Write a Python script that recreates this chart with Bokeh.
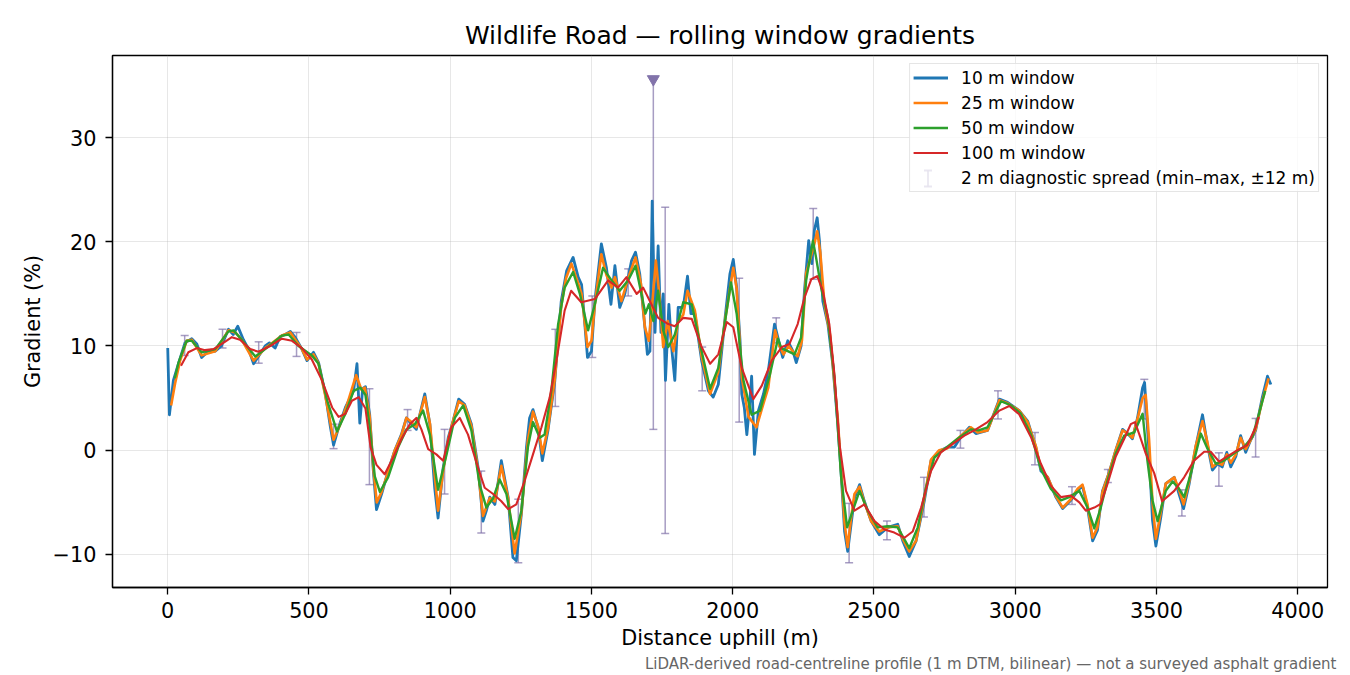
from bokeh.plotting import figure
from bokeh.models import (ColumnDataSource, Range1d, FixedTicker, Legend, LegendItem,
                          Whisker, TeeHead, Arrow, Title)
from bokeh.embed import file_html
from bokeh.resources import INLINE

FONT = "DejaVu Sans"

# (distance uphill in m, gradient in %), per window
w10 = [(0, 9.8), (6, 3.4), (20, 6.7), (38, 8.3), (61, 10.3), (85, 10.7), (103, 10.2), (120, 8.9),
       (140, 9.4), (168, 9.5), (190, 10.0), (215, 11.6), (232, 11.1), (248, 11.9), (268, 10.6),
       (286, 9.7), (304, 8.3), (321, 9.0), (345, 10.0), (360, 10.3), (380, 9.8), (398, 10.9),
       (416, 11.1), (434, 11.4), (452, 10.8), (475, 9.7), (493, 8.6), (516, 9.4), (534, 8.4),
       (558, 5.4), (576, 2.2), (587, 0.5), (605, 2.2), (629, 4.1), (658, 5.7), (670, 8.3),
       (680, 2.6), (690, 5.9), (700, 6.1), (715, 3.4), (727, -1.7), (739, -5.7), (757, -4.2),
       (780, -2.0), (804, 0.0), (827, 1.5), (845, 3.1), (863, 2.5), (880, 2.0), (910, 5.4),
       (928, 2.5), (945, -3.6), (957, -6.5), (975, -1.7), (993, 1.2), (1010, 2.8), (1030, 4.9),
       (1051, 4.4), (1075, 2.5), (1099, -1.7), (1116, -6.8), (1128, -5.8), (1140, -4.5),
       (1158, -5.2), (1181, -1.0), (1205, -4.5), (1222, -10.3), (1234, -10.6), (1252, -6.1),
       (1270, 0.3), (1281, 3.1), (1293, 3.9), (1311, 2.2), (1326, -1.0), (1346, 1.9), (1370, 6.6),
       (1393, 14.3), (1412, 17.2), (1435, 18.5), (1453, 16.6), (1465, 15.9), (1486, 8.9),
       (1500, 9.5), (1512, 14.3), (1535, 19.8), (1553, 17.5), (1569, 14.0), (1583, 17.7),
       (1600, 13.7), (1618, 15.0), (1642, 18.2), (1656, 19.0), (1671, 16.9), (1689, 11.8),
       (1698, 9.2), (1707, 9.5), (1715, 23.9), (1725, 11.3), (1736, 19.6), (1746, 11.3),
       (1754, 15.0), (1762, 6.7), (1774, 14.0), (1784, 9.8), (1795, 6.7), (1807, 13.7),
       (1825, 13.7), (1840, 16.7), (1852, 13.1), (1866, 13.1), (1890, 8.6), (1914, 5.7),
       (1931, 5.1), (1949, 6.3), (1973, 12.7), (1990, 16.9), (2002, 18.3), (2014, 15.6),
       (2026, 10.5), (2032, 5.4), (2041, 4.1), (2050, 1.5), (2058, 3.8), (2067, 7.1),
       (2077, -0.4), (2091, 3.8), (2109, 5.4), (2126, 7.6), (2148, 12.1), (2160, 10.8),
       (2177, 8.9), (2195, 10.5), (2213, 9.5), (2225, 8.4), (2242, 10.0), (2254, 15.3),
       (2269, 20.1), (2280, 17.9), (2289, 21.1), (2299, 22.3), (2307, 20.1), (2319, 14.3),
       (2337, 12.1), (2354, 8.3), (2372, 2.5), (2384, -2.3), (2396, -7.8), (2407, -9.7),
       (2419, -7.1), (2431, -4.6), (2449, -3.3), (2466, -4.9), (2490, -6.8), (2519, -8.1),
       (2549, -7.4), (2584, -7.1), (2602, -8.7), (2625, -10.2), (2649, -8.7), (2678, -4.9),
       (2702, -1.0), (2731, -0.1), (2761, 0.3), (2785, 0.3), (2808, 1.3), (2838, 2.2),
       (2861, 1.6), (2902, 1.9), (2944, 4.9), (2973, 4.6), (3014, 3.8), (3044, 2.8), (3073, 0.3),
       (3091, -2.0), (3115, -2.6), (3144, -4.5), (3168, -5.6), (3197, -4.8), (3221, -3.9),
       (3238, -3.4), (3256, -5.5), (3274, -8.7), (3291, -7.7), (3309, -3.9), (3333, -2.1),
       (3356, 0.0), (3380, 2.0), (3398, 1.6), (3415, 1.1), (3433, 3.1), (3451, 6.0), (3458, 6.5),
       (3474, -0.3), (3486, -6.7), (3498, -9.2), (3515, -6.5), (3533, -3.2), (3563, -2.6),
       (3580, -4.2), (3596, -5.6), (3616, -3.2), (3639, 0.3), (3663, 3.4), (3680, 0.6),
       (3698, -1.9), (3716, -1.3), (3733, -1.6), (3749, -0.2), (3763, -1.6), (3781, -0.6),
       (3798, 1.4), (3816, -0.2), (3834, 1.0), (3851, 1.9), (3875, 5.1), (3893, 7.1), (3905, 6.3)]

w25 = [(12, 4.3), (26, 6.4), (44, 8.6), (67, 10.5), (85, 10.6), (120, 9.1), (168, 9.5), (215, 11.5),
       (239, 11.3), (262, 10.6), (304, 8.6), (345, 9.8), (360, 10.1), (404, 11.0), (434, 11.3),
       (475, 9.7), (493, 8.7), (516, 9.2), (534, 8.3), (558, 5.2), (587, 1.0), (611, 2.5),
       (635, 4.4), (667, 7.2), (686, 5.8), (698, 6.0), (715, 3.2), (728, -1.8), (740, -5.0),
       (757, -4.0), (780, -2.1), (804, 0.0), (827, 1.4), (845, 3.1), (863, 2.7), (880, 2.2),
       (910, 5.1), (928, 2.6), (957, -5.8), (975, -2.0), (993, 1.0), (1010, 2.8), (1030, 4.7),
       (1051, 4.3), (1075, 2.3), (1099, -2.0), (1116, -6.3), (1140, -4.6), (1158, -4.9),
       (1181, -1.5), (1205, -4.6), (1228, -9.9), (1252, -6.0), (1275, 1.0), (1293, 3.7),
       (1311, 2.3), (1326, -0.3), (1346, 2.1), (1370, 6.8), (1393, 13.8), (1410, 16.5),
       (1429, 17.9), (1453, 16.0), (1465, 15.0), (1486, 9.9), (1500, 10.5), (1512, 14.0),
       (1535, 18.8), (1553, 16.8), (1571, 15.6), (1583, 16.6), (1606, 14.3), (1630, 16.5),
       (1656, 18.5), (1675, 16.0), (1689, 11.8), (1703, 10.5), (1715, 14.0), (1728, 18.2),
       (1740, 15.0), (1754, 9.9), (1770, 12.4), (1790, 9.5), (1807, 12.4), (1825, 13.0),
       (1840, 15.3), (1866, 13.4), (1890, 9.0), (1920, 5.4), (1949, 7.5), (1973, 12.5),
       (2002, 17.5), (2014, 15.5), (2032, 7.0), (2056, 3.2), (2084, 2.2), (2109, 4.5),
       (2126, 6.0), (2150, 11.5), (2165, 10.0), (2180, 9.2), (2198, 10.0), (2215, 9.4),
       (2230, 9.0), (2245, 10.5), (2260, 17.0), (2275, 18.4), (2289, 19.8), (2299, 21.0),
       (2310, 19.0), (2325, 14.0), (2345, 11.0), (2372, 3.0), (2396, -7.0), (2407, -9.3),
       (2419, -6.5), (2431, -4.2), (2449, -3.5), (2466, -5.0), (2490, -6.8), (2519, -7.8),
       (2549, -7.4), (2584, -7.3), (2602, -8.5), (2625, -9.7), (2649, -8.7), (2678, -4.6),
       (2702, -0.9), (2731, 0.0), (2761, 0.2), (2808, 1.4), (2843, 2.2), (2867, 1.7),
       (2902, 1.9), (2944, 4.8), (2973, 4.5), (3014, 3.8), (3044, 2.7), (3073, 0.4),
       (3091, -1.8), (3115, -2.6), (3144, -4.4), (3168, -5.5), (3197, -4.7), (3221, -3.7),
       (3238, -3.3), (3256, -5.2), (3274, -8.4), (3291, -7.4), (3309, -4.0), (3333, -2.1),
       (3356, 0.0), (3380, 1.9), (3398, 1.6), (3415, 1.2), (3433, 3.0), (3451, 5.0), (3462, 5.3),
       (3474, 1.0), (3486, -5.0), (3498, -8.5), (3515, -6.0), (3533, -3.2), (3563, -2.6),
       (3580, -3.8), (3596, -5.2), (3616, -3.0), (3639, 0.4), (3663, 2.8), (3680, 0.8),
       (3698, -1.6), (3716, -1.2), (3733, -1.4), (3749, -0.4), (3763, -1.2), (3781, -0.4),
       (3798, 1.2), (3816, 0.1), (3834, 1.0), (3851, 2.0), (3875, 4.8), (3897, 6.9)]

w50 = [(25, 6.9), (38, 8.4), (67, 10.5), (85, 10.5), (120, 9.4), (168, 9.7), (215, 11.4),
       (233, 11.5), (262, 10.6), (310, 9.0), (345, 9.7), (404, 11.0), (428, 11.1), (463, 10.0),
       (510, 9.1), (534, 8.3), (564, 4.8), (599, 1.8), (629, 3.5), (658, 5.7), (682, 6.0),
       (700, 5.3), (715, 2.2), (733, -2.5), (751, -4.0), (780, -2.6), (816, 0.3), (845, 2.0),
       (875, 2.5), (904, 3.8), (928, 1.5), (957, -3.8), (987, -0.4), (1016, 3.1), (1046, 4.3),
       (1075, 1.9), (1104, -3.3), (1128, -5.5), (1152, -4.6), (1175, -2.8), (1199, -4.2),
       (1228, -8.5), (1252, -5.8), (1275, 0.3), (1293, 2.7), (1317, 1.2), (1334, 1.5),
       (1358, 5.7), (1382, 12.1), (1405, 15.6), (1435, 17.1), (1459, 15.0), (1488, 11.5),
       (1512, 14.0), (1541, 17.5), (1571, 16.3), (1600, 15.3), (1630, 16.3), (1656, 17.7),
       (1677, 15.0), (1691, 13.1), (1703, 14.0), (1719, 12.4), (1736, 15.3), (1754, 11.5),
       (1772, 9.9), (1795, 11.1), (1825, 14.2), (1855, 14.0), (1890, 9.5), (1920, 5.9),
       (1949, 7.9), (1973, 12.4), (1994, 16.1), (2014, 13.1), (2038, 6.7), (2067, 3.4),
       (2097, 3.8), (2132, 7.3), (2160, 10.7), (2172, 9.8), (2195, 9.5), (2219, 9.2),
       (2242, 10.8), (2260, 16.3), (2284, 20.1), (2295, 18.5), (2313, 15.6), (2337, 12.7),
       (2360, 7.0), (2384, -2.6), (2405, -7.4), (2425, -5.8), (2449, -3.9), (2478, -5.8),
       (2513, -7.4), (2549, -7.3), (2584, -7.4), (2625, -9.4), (2655, -7.4), (2684, -3.6),
       (2714, -0.7), (2749, 0.1), (2796, 1.1), (2843, 2.0), (2870, 1.9), (2902, 2.2),
       (2950, 4.7), (2985, 4.3), (3020, 3.5), (3056, 1.5), (3091, -1.8), (3126, -3.7),
       (3162, -4.8), (3191, -4.5), (3227, -3.9), (3256, -5.5), (3280, -7.5), (3303, -5.5),
       (3327, -2.9), (3356, -0.3), (3386, 1.4), (3421, 1.7), (3451, 3.5), (3468, -1.0),
       (3486, -4.8), (3504, -6.8), (3520, -5.2), (3533, -3.9), (3557, -3.0), (3580, -3.7),
       (3598, -4.5), (3622, -2.2), (3657, 1.6), (3680, 0.2), (3710, -1.3), (3739, -1.0),
       (3775, -0.3), (3810, 0.3), (3840, 1.3), (3863, 3.5), (3885, 5.7)]

w100 = [(47, 8.1), (73, 9.4), (103, 9.8), (132, 9.6), (162, 9.7), (197, 10.3), (227, 10.85),
        (256, 10.6), (292, 9.7), (321, 9.45), (363, 10.0), (404, 10.7), (440, 10.5), (475, 9.8),
        (510, 8.7), (546, 6.7), (582, 4.1), (605, 3.2), (629, 3.5), (652, 4.75), (676, 5.1),
        (700, 4.0), (718, 0.3), (739, -1.4), (768, -2.3), (798, -0.7), (827, 1.05), (857, 2.5),
        (880, 3.1), (898, 2.0), (922, 0.1), (951, -0.4), (975, -1.0), (1004, 2.2), (1034, 3.1),
        (1063, 1.5), (1093, -1.2), (1122, -3.6), (1152, -4.2), (1181, -4.9), (1205, -5.65),
        (1234, -5.2), (1264, -2.9), (1293, -0.4), (1323, 2.2), (1352, 5.05), (1376, 8.6),
        (1405, 13.4), (1428, 15.3), (1464, 14.2), (1512, 14.5), (1559, 16.3), (1594, 15.6),
        (1624, 16.6), (1660, 15.0), (1683, 15.6), (1707, 14.3), (1736, 12.7), (1772, 12.1),
        (1795, 11.9), (1825, 12.7), (1855, 12.6), (1890, 9.9), (1920, 8.3), (1949, 9.2),
        (1979, 12.3), (2002, 11.8), (2032, 7.9), (2073, 4.9), (2103, 6.2), (2138, 8.6),
        (2174, 9.9), (2201, 10.2), (2230, 12.1), (2254, 14.65), (2278, 16.4), (2299, 16.7),
        (2319, 15.3), (2342, 12.1), (2360, 7.3), (2378, 0.6), (2401, -3.9), (2431, -5.8),
        (2466, -5.2), (2502, -6.8), (2537, -7.6), (2572, -7.9), (2608, -8.4), (2637, -7.8),
        (2667, -5.5), (2702, -2.0), (2737, -0.2), (2779, 0.6), (2820, 1.4), (2855, 1.9),
        (2902, 2.7), (2944, 3.8), (2979, 4.25), (3014, 3.45), (3056, 1.25), (3091, -1.3),
        (3126, -3.4), (3162, -4.5), (3197, -4.35), (3227, -5.0), (3250, -5.8), (3280, -5.5),
        (3303, -5.15), (3327, -3.2), (3356, -0.6), (3386, 1.1), (3409, 2.5), (3424, 2.7),
        (3439, 1.55), (3462, -0.3), (3492, -2.2), (3520, -4.9), (3563, -3.9), (3598, -2.6),
        (3633, -1.0), (3669, -0.15), (3692, -0.15), (3722, -1.1), (3751, -0.6), (3787, 0.0),
        (3822, 0.5), (3851, 2.2), (3862, 3.2)]

# 2 m diagnostic spread: min-max within +-12 m at each check point
spread_d = [60, 194, 322, 456, 587, 714, 849, 980, 1110, 1241, 1372, 1503, 1630, 1719, 1761,
            1892, 2023, 2154, 2285, 2412, 2546, 2677, 2806, 2939, 3070, 3201, 3328, 3457, 3590,
            3721, 3851]
spread_lo = [9.1, 9.8, 8.35, 9.0, 0.15, -3.3, 1.9, -4.2, -7.95, -10.8, 4.2, 8.9, 14.8, 2.0, -8.0,
             5.7, 2.7, 10.3, 16.4, -10.8, -8.6, -6.4, 0.2, 3.0, -1.4, -5.2, -3.1, 3.0, -6.3,
             -3.45, -0.65]
spread_hi = [11.0, 11.6, 10.4, 11.3, 2.5, 5.9, 3.9, 2.0, -2.0, -4.7, 11.6, 14.8, 17.4, 35.6, 23.3,
             9.9, 16.5, 12.7, 23.2, -5.1, -6.8, -2.6, 1.9, 5.7, 1.7, -3.5, -1.85, 6.8, -3.8,
             -0.25, 3.05]
# spread maxima that run off the top of the axes
clip_d = [1719]
clip_y = [35.6]

x_ticks = [0, 500, 1000, 1500, 2000, 2500, 3000, 3500, 4000]
y_ticks = [-10, 0, 10, 20, 30]

series = [("10 m window", w10, "#1f77b4", 2.8),
          ("25 m window", w25, "#ff7f0e", 2.6),
          ("50 m window", w50, "#2ca02c", 2.4),
          ("100 m window", w100, "#d62728", 2.1)]
ERR = "#8273aa"
ERR_ALPHA = 0.7

p = figure(frame_width=1215, frame_height=532,
           x_range=Range1d(-195.5, 4105.5), y_range=Range1d(-13.17, 37.87),
           output_backend="svg", toolbar_location=None,
           min_border_left=112, min_border_right=15, min_border_top=55, min_border_bottom=80,
           x_axis_label="Distance uphill (m)", y_axis_label="Gradient (%)")

p.title.text = "Wildlife Road \u2014 rolling window gradients"
p.title.align = "center"
p.title.text_font = FONT
p.title.text_font_size = "25px"
p.title.text_font_style = "normal"
p.title.text_color = "black"
p.title.standoff = 11

p.outline_line_color = "black"
p.outline_line_width = 1.3
p.outline_line_alpha = 1.0
p.background_fill_color = "white"
p.border_fill_color = "white"

p.xaxis.ticker = FixedTicker(ticks=x_ticks)
p.yaxis.ticker = FixedTicker(ticks=y_ticks)
p.yaxis.major_label_overrides = {-10: "\u221210"}
for ax in p.axis:
    ax.axis_line_width = 1.3
    ax.major_tick_line_width = 1.3
    ax.major_tick_out = 7
    ax.major_tick_in = 0
    ax.minor_tick_line_color = None
    ax.major_label_text_font = FONT
    ax.major_label_text_font_size = "20.8px"
    ax.major_label_text_color = "black"
    ax.axis_label_text_font = FONT
    ax.axis_label_text_font_size = "20.8px"
    ax.axis_label_text_font_style = "normal"
    ax.axis_label_text_color = "black"
p.xaxis.major_label_standoff = 7
p.yaxis.major_label_standoff = 9
p.xaxis.axis_label_standoff = 5
p.yaxis.axis_label_standoff = 5

p.grid.grid_line_color = "#b0b0b0"
p.grid.grid_line_alpha = 0.3
p.grid.grid_line_width = 1
p.xgrid.ticker = FixedTicker(ticks=x_ticks)
p.ygrid.ticker = FixedTicker(ticks=y_ticks)


def tee(alpha=ERR_ALPHA, width=1.5):
    return TeeHead(size=8, line_color=ERR, line_alpha=alpha, line_width=width)


err_src = ColumnDataSource(data=dict(d=spread_d, lo=spread_lo, hi=spread_hi))
whisk = Whisker(source=err_src, base="d", lower="lo", upper="hi",
                line_color=ERR, line_alpha=ERR_ALPHA, line_width=1.5,
                lower_head=tee(), upper_head=tee())
p.add_layout(whisk)

items = []
for label, pts, colour, lw in series:
    src = ColumnDataSource(data=dict(d=[a for a, b in pts], g=[b for a, b in pts]))
    r = p.line(x="d", y="g", source=src, line_color=colour, line_width=lw, line_join="round")
    items.append(LegendItem(label=label, renderers=[r]))

p.scatter(x=clip_d, y=clip_y, marker="inverted_triangle", size=12,
          fill_color=ERR, line_color=ERR)

# invisible stand-in so the legend gets a row for the spread bars
ghost = p.segment(x0=[], y0=[], x1=[], y1=[], line_alpha=0)
items.append(LegendItem(label="2 m diagnostic spread (min\u2013max, \u00b112 m)", renderers=[ghost]))

# nothing but grid lines sits under the legend, so it can go on the underlay level
# and let the hand-drawn "I" symbol sit on top of it
legend = Legend(items=items, location="top_right", margin=8, padding=3,
                spacing=4, glyph_width=35, glyph_height=21, label_height=21,
                label_standoff=13, label_text_font=FONT, label_text_font_size="17px",
                label_text_color="black", level="underlay",
                border_line_color="#cccccc", border_line_width=1,
                background_fill_color="white", background_fill_alpha=0.8)
p.add_layout(legend)

# "I" symbol drawn over the last legend row (screen units are frame-relative)
p.add_layout(Arrow(x_start=815.5, y_start=401, x_end=815.5, y_end=417,
                   start_units="screen", end_units="screen",
                   start=tee(0.85, 1.8), end=tee(0.85, 1.8), level="overlay",
                   line_color=ERR, line_alpha=0.85, line_width=1.8))

p.add_layout(Title(text="LiDAR-derived road-centreline profile (1 m DTM, bilinear) \u2014 "
                        "not a surveyed asphalt gradient",
                   align="right", text_font=FONT, text_font_size="15px",
                   text_font_style="normal", text_color="#666666", standoff=0, offset=-9),
             "below")

open("out.html", "w").write(file_html(p, INLINE))
